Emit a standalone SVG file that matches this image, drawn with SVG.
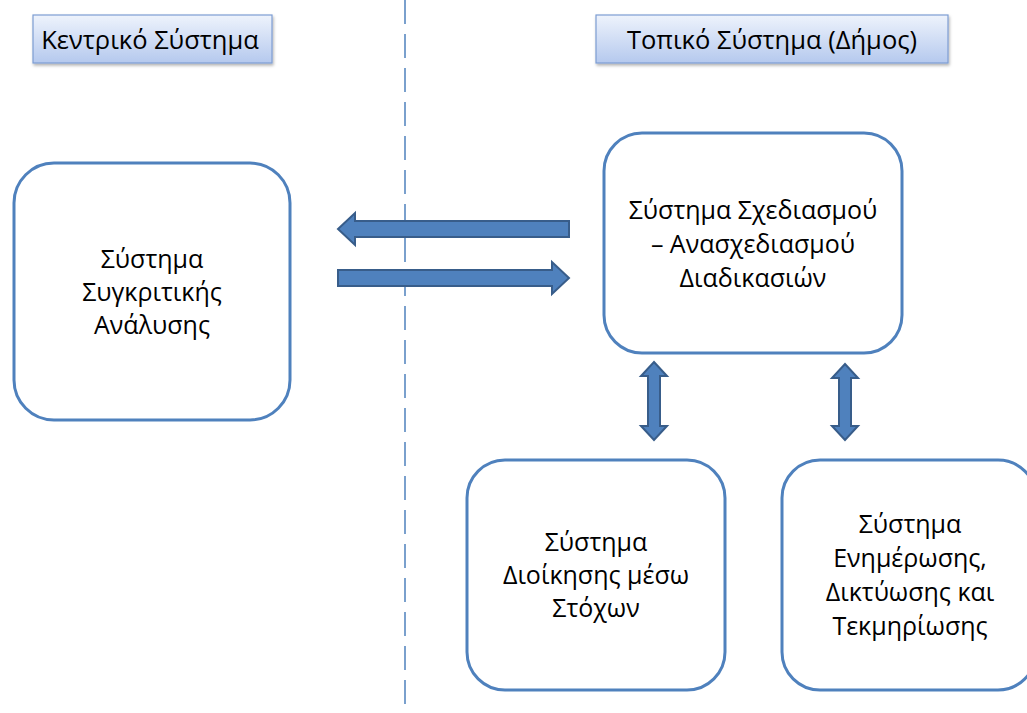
<svg xmlns="http://www.w3.org/2000/svg" width="1027" height="713" viewBox="0 0 1027 713">
<defs>
<linearGradient id="hdr" x1="0" y1="0" x2="0" y2="1">
<stop offset="0" stop-color="#eef3fc"/>
<stop offset="1" stop-color="#b5c9ee"/>
</linearGradient>
<filter id="sh" x="-10%" y="-20%" width="120%" height="150%">
<feDropShadow dx="1" dy="2" stdDeviation="1.5" flood-color="#000" flood-opacity="0.3"/>
</filter>
</defs>
<style>
.hdr{fill:url(#hdr);stroke:#7d9dd2;stroke-width:1.2;filter:url(#sh)}
.box{fill:#fff;stroke:#4f81bd;stroke-width:3}
.arr{fill:#4f81bd;stroke:#385d8a;stroke-width:2;stroke-linejoin:miter}
text{font-family:"Open Sans","Noto Sans","DejaVu Sans",sans-serif;fill:#000;text-anchor:middle}
.h{font-size:25.5px}
.t{font-size:25px}
</style>
<line x1="405" y1="0" x2="405" y2="713" stroke="#4f81bd" stroke-width="1.5" stroke-dasharray="24,10"/>
<g id="hdr-central">
<rect class="hdr" x="33" y="15" width="239" height="48"/>
<text class="h" x="150" y="49">Κεντρικό Σύστημα</text>
</g>
<g id="hdr-local">
<rect class="hdr" x="596" y="15" width="352" height="48"/>
<text class="h" x="772" y="49">Τοπικό Σύστημα (Δήμος)</text>
</g>
<g id="node-compare">
<rect class="box" x="14" y="163" width="276" height="257" rx="40"/>
<text class="t" x="152" y="268">Σύστημα</text>
<text class="t" x="152" y="301">Συγκριτικής</text>
<text class="t" x="152" y="334">Ανάλυσης</text>
</g>
<g id="node-design">
<rect class="box" x="604" y="133" width="298" height="220" rx="38"/>
<text class="t" x="753" y="219">Σύστημα Σχεδιασμού</text>
<text class="t" x="753" y="253">– Ανασχεδιασμού</text>
<text class="t" x="753" y="287">Διαδικασιών</text>
</g>
<g id="node-goals">
<rect class="box" x="467" y="460" width="258" height="230" rx="38"/>
<text class="t" x="596" y="551">Σύστημα</text>
<text class="t" x="596" y="584">Διοίκησης μέσω</text>
<text class="t" x="596" y="617">Στόχων</text>
</g>
<g id="node-info">
<rect class="box" x="782" y="460" width="254" height="230" rx="38"/>
<text class="t" x="910" y="533">Σύστημα</text>
<text class="t" x="910" y="567">Ενημέρωσης,</text>
<text class="t" x="910" y="601">Δικτύωσης και</text>
<text class="t" x="910" y="635">Τεκμηρίωσης</text>
</g>
<g id="connectors">
<polygon class="arr" points="569,221 355,221 355,213 338,229 355,245 355,237 569,237"/>
<polygon class="arr" points="338,270 552,270 552,262 569,278 552,294 552,286 338,286"/>
<polygon class="arr" points="654,362 667,376 660,376 660,426 667,426 654,440 641,426 648,426 648,376 641,376"/>
<polygon class="arr" points="845,364 858,378 851,378 851,426 858,426 845,440 832,426 839,426 839,378 832,378"/>
</g>
</svg>
